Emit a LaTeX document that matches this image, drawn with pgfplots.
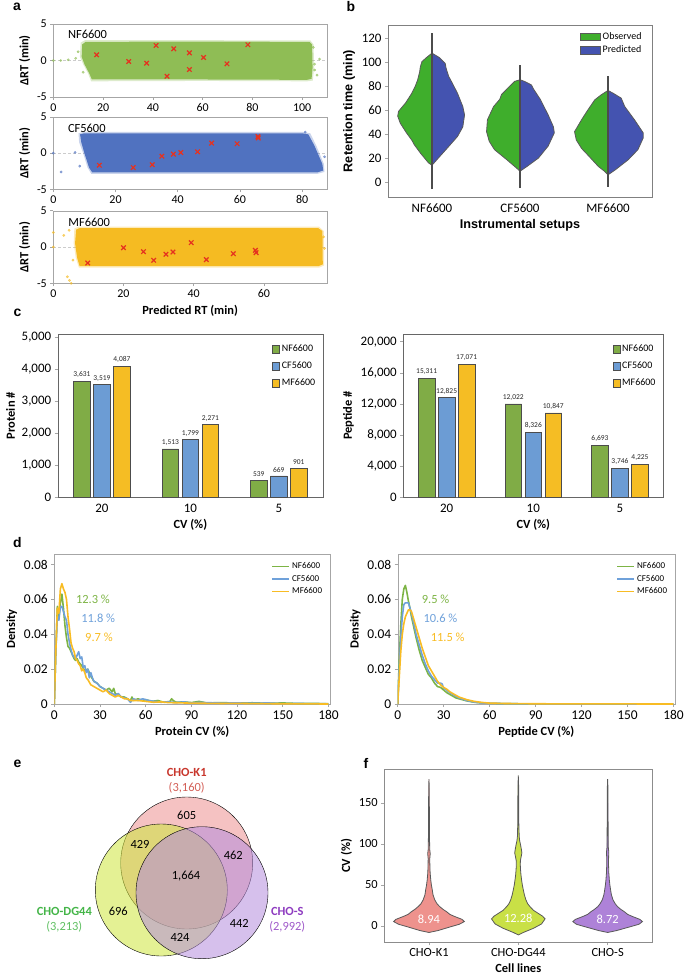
\documentclass[border=0pt]{standalone}
\usepackage{fontspec}
\setmainfont{Carlito}
\newfontfamily\arial{Liberation Sans}
\usepackage{pgfplots}
\pgfplotsset{compat=1.18}

\definecolor{aGreen}{HTML}{8FBD55}
\definecolor{aBlue}{HTML}{5072C0}
\definecolor{aOrange}{HTML}{F5BB22}
\definecolor{xRed}{HTML}{E5321F}
\definecolor{vGreen}{HTML}{3FAE2C}
\definecolor{vBlue}{HTML}{4453B0}
\definecolor{cGreen}{HTML}{80AC46}
\definecolor{cBlue}{HTML}{6C9CD4}
\definecolor{cOrange}{HTML}{F5BD24}
\definecolor{dGreen}{HTML}{7DB445}
\definecolor{dBlue}{HTML}{6FA1DA}
\definecolor{dOrange}{HTML}{F8BC24}
\definecolor{eRed}{HTML}{EC9090}
\definecolor{eGreen}{HTML}{CDE63C}
\definecolor{ePurple}{HTML}{B48CDC}
\definecolor{fRed}{HTML}{EE928D}
\definecolor{fGreen}{HTML}{C9E046}
\definecolor{fPurple}{HTML}{AE82D8}
\definecolor{frame}{HTML}{A6A6A6}
\definecolor{kRed}{HTML}{C8372D}
\definecolor{kGreen}{HTML}{44B548}
\definecolor{kPurple}{HTML}{8E3CC0}

\newcommand\fs[1]{\fontsize{#1}{#1}\selectfont}

\pgfplotsset{
  panel/.style={
    scale only axis, anchor=north west,
    axis line style={draw=frame}, tick style={draw=frame, line width=0.6bp},
    tick align=outside, major tick length=3bp, tick pos=left,
    ticklabel style={font=\fs{12}},
    /pgf/number format/assume math mode=true,
    /pgf/number format/1000 sep={,},
    scaled ticks=false,
    label style={font=\bfseries\fs{12.5}},
  },
  scat/.style={panel, width=273.7bp, xmin=0, ymin=-5, ymax=5, ytick={-5,0,5},
    ylabel={ΔRT (min)}},
  cloud/.style={draw=none, fill=#1},
  halo/.style={draw=none, fill=#1, fill opacity=0.3},
  sparse/.style={only marks, mark=*, mark size=1.2bp, color=#1, opacity=0.6},
  redx/.style={only marks, mark=x, mark size=3.2bp, color=xRed, line width=1.2bp},
  bars/.style={panel, width=#1, height=163.3bp, ybar=3.5bp, bar width=16.5bp,
    xmin=-0.5, xmax=2.5, ymin=0, xtick={0,1,2}, xticklabels={20,10,5},
    xtick style={draw=none}, axis line style={draw=black!60},
    ticklabel style={font=\fs{13}}, xlabel={CV (\%)},
    nodes near coords, nodes near coords style={font=\fs{7.5}, text=black!85},
    legend style={at={(0.99,0.96)}, anchor=north east, draw=none, fill=none,
      font=\fs{10}, row sep=5bp, cells={anchor=west}},
    legend image code/.code={\draw[##1, draw=black!70] (0bp,-4bp) rectangle (7bp,4bp);}},
  dens/.style={panel, width=#1, height=150bp, xmin=0, xmax=181, ymin=0, ymax=0.086,
    xtick={0,30,...,180}, ytick={0,0.02,0.04,0.06,0.08},
    yticklabel style={/pgf/number format/fixed, /pgf/number format/precision=2},
    ticklabel style={font=\fs{13.5}}, ylabel={Density},
    legend style={at={(0.99,0.97)}, anchor=north east, draw=none, fill=none,
      font=\fs{9}, row sep=1bp, cells={anchor=west}}},
  dline/.style={color=#1, line width=1.6bp, line join=round},
  vio/.style={fill=#1, draw=black!65, line width=0.8bp},
}

\begin{document}
\begin{tikzpicture}
\useasboundingbox (0,0) rectangle (685bp,-976bp);

% ---------- a ----------
\begin{axis}[scat, at={(53.3bp,-24bp)}, height=73bp, xmax=110, xtick={0,20,...,100}]
\addplot[densely dashed, black!20] coordinates {(0,0) (110,0)};
\addplot[halo=aGreen] coordinates {(10.7,0.5) (11,2.45) (12.7,2.78) (60,2.78) (103.3,2.75) (104.6,2.2) (104.8,-1) (104.3,-2.75) (102,-2.85) (60,-2.8) (15.2,-2.85) (14,-1.8) (12,-0.5)};
\addplot[cloud=aGreen] coordinates {(11.4,0.5) (11.6,2.2) (13,2.55) (60,2.6) (103,2.55) (104,2.2) (104.2,-1) (103.8,-2.5) (102,-2.65) (60,-2.6) (15.5,-2.6) (14.5,-1.8) (12.5,-0.5)};
\addplot[sparse=aGreen] coordinates {(0,0) (3,0) (6,0.1) (9,0.3) (12,-1.6) (104.5,1.8) (105,-1.3) (106,-2.0) (107,0.2) (105,-0.5) (10,1.2)};
\addplot[redx] coordinates {(17.4,0.78) (30.3,-0.14) (37.5,-0.37) (41.3,2.06) (48.4,1.6) (45.7,-2.16) (54.7,1.05) (54.7,-1.24) (60.4,0.41) (69.8,-0.46) (78.2,2.16)};
\node[anchor=west, font=\fs{12.5}] at (axis cs:4.5,3.6) {NF6600};
\end{axis}

\begin{axis}[scat, at={(53.3bp,-117bp)}, height=72.3bp, xmax=88, xtick={0,20,...,80}]
\addplot[densely dashed, black!20] coordinates {(0,0) (88,0)};
\addplot[halo=aBlue] coordinates {(8.3,1.5) (8.1,2.75) (10,2.95) (80,2.95) (82.6,2.75) (84.6,1) (87,-1.5) (87.2,-2.6) (85,-2.85) (12.2,-2.85) (11,-2) (9.6,0)};
\addplot[cloud=aBlue] coordinates {(9,1.5) (8.6,2.6) (10,2.75) (80,2.75) (82,2.6) (84,1) (86.5,-1.5) (86.8,-2.4) (85,-2.65) (12.5,-2.65) (11.5,-2) (10,0)};
\addplot[sparse=aBlue] coordinates {(0,0) (2.5,-2.6) (7,0.1) (8.5,-1.8) (87.2,-0.5) (81,2.9)};
\addplot[redx] coordinates {(14.8,-1.67) (25.7,-2.0) (31.8,-1.6) (34.9,-0.42) (38.6,-0.14) (41.0,0.09) (46.4,0.19) (50.9,1.39) (59.1,1.3) (65.8,2.3) (65.9,2.1)};
\node[anchor=west, font=\fs{12.5}] at (axis cs:3.6,3.5) {CF5600};
\end{axis}

\begin{axis}[scat, at={(53.3bp,-210.7bp)}, height=72.6bp, xmax=78, xtick={0,20,...,60},
  xlabel={Predicted RT (min)}]
\addplot[densely dashed, black!20] coordinates {(0,0) (78,0)};
\addplot[halo=aOrange] coordinates {(5.8,0.5) (6,2.55) (7.3,2.8) (75.7,2.8) (77.1,2.2) (77.2,-2.55) (75.7,-2.85) (7.3,-2.85) (6.4,-1.5)};
\addplot[cloud=aOrange] coordinates {(6.2,0.5) (6.5,2.4) (7.5,2.6) (75.5,2.6) (76.7,2.2) (76.8,-2.4) (75.5,-2.65) (7.5,-2.65) (6.8,-1.5)};
\addplot[sparse=aOrange] coordinates {(0,2) (0,0) (3,1.6) (4.5,2.3) (4,-4.1) (4.6,-4.6) (5.1,-5) (5.6,-1.8) (77.3,-0.2) (77,1.4)};
\addplot[redx] coordinates {(9.8,-2.2) (20.0,-0.1) (25.7,-0.64) (28.6,-1.83) (32.1,-1.0) (34.1,-0.69) (39.3,0.6) (43.6,-1.74) (51.3,-0.92) (57.6,-0.46) (57.8,-0.78)};
\node[anchor=west, font=\fs{12.5}] at (axis cs:3.3,3.4) {MF6600};
\end{axis}

% ---------- b ----------
\begin{axis}[panel, at={(388bp,-25bp)}, width=264bp, height=172bp,
  xmin=-0.5, xmax=2.5, ymin=-12.5, ymax=131,
  xtick={0,1,2}, xticklabels={NF6600,CF5600,MF6600}, xtick style={draw=none},
  ytick={0,20,...,120}, ticklabel style={font=\fs{13}},
  axis line style={draw=black!50},
  label style={font=\arial\bfseries\fs{12.7}},
  xlabel={Instrumental setups}, ylabel={Retention time (min)},
  legend style={at={(0.98,0.98)}, anchor=north east, draw=none, fill=none,
    font=\fs{10}, row sep=1bp, cells={anchor=west}},
  legend image code/.code={\fill[#1] (0bp,-3.8bp) rectangle (20bp,3.8bp);}]
\addplot[vio=vGreen] coordinates {(0,14) (-0.04,16) (-0.13,24) (-0.2,31) (-0.23,35) (-0.29,41) (-0.36,49) (-0.39,55) (-0.38,59) (-0.30,66) (-0.23,74) (-0.19,80) (-0.164,85) (-0.14,92) (-0.133,96) (-0.114,100.5) (-0.06,104) (0,107.5)};
\addlegendentry{Observed}
\addplot[vio=vBlue] coordinates {(0,14) (0.06,19) (0.17,28) (0.29,38) (0.35,46) (0.37,56) (0.35,63) (0.29,74) (0.22,84) (0.19,88) (0.16,95) (0.15,99) (0.08,104) (0,107.5)};
\addlegendentry{Predicted}
\addplot[vio=vGreen, forget plot] coordinates {(1,9) (0.96,11.7) (0.85,18.6) (0.71,27) (0.65,34) (0.62,42) (0.63,52) (0.70,63) (0.77,69) (0.79,73) (0.87,79) (0.94,84) (1,85.3)};
\addplot[vio=vBlue, forget plot] coordinates {(1,9) (1.08,13) (1.21,20) (1.32,30) (1.39,41) (1.38,46) (1.32,56) (1.23,69) (1.15,78) (1.13,81) (1.05,84) (1,85.3)};
\addplot[vio=vGreen, forget plot] coordinates {(2,6) (1.96,9) (1.89,13) (1.79,21) (1.70,28) (1.64,35) (1.62,42) (1.70,52) (1.77,60) (1.85,68.6) (1.924,72.8) (2,76.4)};
\addplot[vio=vBlue, forget plot] coordinates {(2,6) (2.08,10) (2.23,18.6) (2.34,27) (2.40,36.7) (2.40,41) (2.30,52) (2.19,63) (2.15,70) (2.06,74) (2,76.4)};
\addplot[black!70, line width=1.6bp, forget plot] coordinates {(0,-6) (0,124)};
\addplot[black!70, line width=1.6bp, forget plot] coordinates {(1,-5) (1,97.8)};
\addplot[black!70, line width=1.6bp, forget plot] coordinates {(2,-4) (2,88.6)};
\end{axis}

% ---------- c ----------
\begin{axis}[bars=265.3bp, at={(57.7bp,-334bp)}, ymax=5100, ytick={0,1000,...,5000},
  ylabel={Protein \#}]
\addplot[fill=cGreen, draw=black!70, line width=0.6bp] coordinates {(0,3631) (1,1513) (2,539)};
\addplot[fill=cBlue, draw=black!70, line width=0.6bp] coordinates {(0,3519) (1,1799) (2,669)};
\addplot[fill=cOrange, draw=black!70, line width=0.6bp] coordinates {(0,4087) (1,2271) (2,901)};
\legend{NF6600,CF5600,MF6600}
\end{axis}

\begin{axis}[bars=260bp, at={(403.3bp,-334bp)}, ymax=21000, ytick={0,4000,...,20000},
  ylabel={Peptide \#}]
\addplot[fill=cGreen, draw=black!70, line width=0.6bp] coordinates {(0,15311) (1,12022) (2,6693)};
\addplot[fill=cBlue, draw=black!70, line width=0.6bp] coordinates {(0,12825) (1,8326) (2,3746)};
\addplot[fill=cOrange, draw=black!70, line width=0.6bp] coordinates {(0,17071) (1,10847) (2,4225)};
\legend{NF6600,CF5600,MF6600}
\end{axis}

% ---------- d ----------
\begin{axis}[dens=275.7bp, at={(54.3bp,-554bp)}, xlabel={Protein CV (\%)}]
\addplot[dline=dGreen] coordinates {(0,0) (1,0.03) (2,0.056) (3,0.05) (4,0.058) (5,0.063) (6,0.055) (7,0.045) (8,0.038) (9,0.033) (10,0.032) (11,0.03) (12,0.028) (13,0.026) (14,0.025) (15,0.026) (16,0.024) (18,0.022) (20,0.019) (22,0.02) (24,0.016) (26,0.013) (28,0.012) (30,0.01) (32,0.009) (34,0.008) (36,0.009) (38,0.007) (39,0.009) (40,0.006) (42,0.005) (44,0.004) (46,0.004) (48,0.003) (50,0.002) (51,0.004) (52,0.002) (55,0.003) (58,0.002) (60,0.0025) (64,0.0015) (68,0.002) (72,0.001) (76,0.0015) (77,0.003) (78,0.002) (80,0.001) (85,0.0012) (90,0.0008) (95,0.0015) (100,0.0006) (110,0.0008) (120,0.0005) (130,0.0007) (140,0.0004) (150,0.0006) (160,0.0003) (170,0.0003) (180,0.0002)};
\addlegendentry{NF6600}
\addplot[dline=dBlue] coordinates {(0,0) (1,0.03) (2,0.05) (3,0.048) (4,0.056) (5,0.056) (6,0.053) (7,0.05) (8,0.048) (9,0.04) (10,0.035) (11,0.031) (12,0.028) (13,0.027) (14,0.026) (15,0.028) (16,0.03) (17,0.026) (18,0.027) (19,0.021) (20,0.022) (21,0.018) (22,0.02) (23,0.015) (24,0.018) (25,0.015) (26,0.013) (28,0.012) (30,0.01) (32,0.009) (34,0.008) (36,0.007) (38,0.006) (40,0.005) (42,0.006) (44,0.004) (46,0.0035) (48,0.003) (50,0.001) (52,0.003) (55,0.002) (58,0.003) (62,0.002) (66,0.0015) (70,0.001) (75,0.0012) (80,0.0008) (85,0.0012) (90,0.0006) (95,0.0009) (100,0.0008) (110,0.0005) (120,0.0006) (130,0.0004) (140,0.0006) (150,0.0002) (160,0.0003) (170,0.0002) (180,0.0001)};
\addlegendentry{CF5600}
\addplot[dline=dOrange] coordinates {(0,0) (1,0.03) (2,0.055) (3,0.052) (4,0.066) (5,0.069) (6,0.066) (7,0.064) (8,0.06) (9,0.05) (10,0.043) (11,0.035) (12,0.032) (13,0.03) (14,0.026) (15,0.025) (16,0.023) (17,0.022) (18,0.019) (19,0.02) (20,0.018) (21,0.015) (22,0.014) (24,0.011) (26,0.01) (28,0.009) (30,0.008) (32,0.007) (34,0.008) (36,0.006) (38,0.005) (40,0.004) (42,0.005) (44,0.004) (46,0.003) (48,0.003) (50,0.002) (55,0.002) (60,0.0015) (65,0.001) (70,0.0012) (75,0.0008) (80,0.0007) (90,0.0005) (100,0.0004) (110,0.0003) (120,0.0004) (130,0.0002) (140,0.0002) (150,0.0001) (160,0.0001) (180,0)};
\addlegendentry{MF6600}
\node[anchor=west, text=dGreen, font=\fs{12.5}] at (axis cs:12,0.060) {12.3 \%};
\node[anchor=west, text=dBlue, font=\fs{12.5}] at (axis cs:15.4,0.049) {11.8 \%};
\node[anchor=west, text=dOrange, font=\fs{12.5}] at (axis cs:18,0.0385) {9.7 \%};
\end{axis}

\begin{axis}[dens=277.3bp, at={(397.7bp,-554bp)}, xlabel={Peptide CV (\%)}]
\addplot[dline=dGreen] coordinates {(0,0) (1,0.025) (2,0.045) (3,0.06) (4,0.066) (5,0.068) (6,0.064) (7,0.059) (8,0.055) (9,0.05) (10,0.046) (12,0.038) (14,0.031) (16,0.025) (18,0.021) (20,0.017) (22,0.015) (24,0.012) (26,0.01) (28,0.0095) (30,0.008) (32,0.0065) (34,0.0055) (36,0.0045) (38,0.0035) (40,0.003) (45,0.0018) (50,0.001) (55,0.0006) (60,0.0004) (70,0.0002) (80,0.0001) (100,0.00005) (180,0)};
\addlegendentry{NF6600}
\addplot[dline=dBlue] coordinates {(0,0) (1,0.02) (2,0.038) (3,0.05) (4,0.057) (5,0.058) (6,0.058) (7,0.058) (8,0.055) (9,0.052) (10,0.048) (12,0.04) (14,0.034) (16,0.028) (18,0.023) (20,0.019) (22,0.016) (24,0.014) (26,0.012) (28,0.012) (29,0.0115) (30,0.009) (32,0.008) (34,0.0065) (36,0.0055) (38,0.0045) (40,0.0035) (45,0.002) (50,0.0011) (55,0.0006) (60,0.0004) (70,0.0002) (80,0.0001) (180,0)};
\addlegendentry{CF5600}
\addplot[dline=dOrange] coordinates {(0,0) (1,0.015) (2,0.03) (3,0.04) (4,0.046) (5,0.05) (6,0.052) (7,0.054) (8,0.054) (9,0.053) (10,0.05) (12,0.044) (14,0.038) (16,0.032) (18,0.027) (20,0.022) (22,0.019) (24,0.016) (26,0.013) (28,0.011) (30,0.0095) (32,0.0085) (34,0.007) (36,0.006) (38,0.005) (40,0.004) (45,0.0025) (50,0.0015) (55,0.0009) (60,0.0005) (70,0.0003) (80,0.0002) (100,0.0001) (180,0)};
\addlegendentry{MF6600}
\node[anchor=west, text=dGreen, font=\fs{12.5}] at (axis cs:13.5,0.060) {9.5 \%};
\node[anchor=west, text=dBlue, font=\fs{12.5}] at (axis cs:14.6,0.049) {10.6 \%};
\node[anchor=west, text=dOrange, font=\fs{12.5}] at (axis cs:19.3,0.0385) {11.5 \%};
\end{axis}

% ---------- e ----------
\begin{axis}[scale only axis, anchor=north west, at={(0bp,-740bp)}, width=340bp, height=236bp,
  xmin=0, xmax=340, ymin=-976, ymax=-740, hide axis, clip=false]
\addplot[only marks, mark=*, mark size=66bp, mark options={draw=none, fill=eRed, fill opacity=0.55}] coordinates {(186.7,-863)};
\addplot[only marks, mark=*, mark size=66bp, mark options={draw=none, fill=eGreen, fill opacity=0.55}] coordinates {(161.3,-890)};
\addplot[only marks, mark=*, mark size=66bp, mark options={draw=none, fill=ePurple, fill opacity=0.55}] coordinates {(202,-892.7)};
\end{axis}
% Venn labels, over the circles
\begin{scope}[every node/.style={font=\fs{12.5}}]
\node[font=\bfseries\fs{12.5}, text=kRed] at (186.7bp,-772.5bp) {CHO-K1};
\node[text=kRed!80] at (186.7bp,-788bp) {(3,160)};
\node[font=\bfseries\fs{12.5}, text=kGreen] at (64.3bp,-911bp) {CHO-DG44};
\node[text=kGreen!85] at (64.3bp,-926.7bp) {(3,213)};
\node[font=\bfseries\fs{12.5}, text=kPurple] at (287.3bp,-911bp) {CHO-S};
\node[text=kPurple!85] at (287.3bp,-926.7bp) {(2,992)};
\node at (186.7bp,-815bp) {605};
\node at (140bp,-844.3bp) {429};
\node at (233.3bp,-855bp) {462};
\node at (186bp,-876bp) {1,664};
\node at (118.3bp,-911bp) {696};
\node at (239.3bp,-923.3bp) {442};
\node at (180bp,-937.7bp) {424};
\end{scope}

% ---------- f ----------
\begin{axis}[panel, at={(384.3bp,-769.3bp)}, width=268bp, height=173bp,
  xmin=-0.5, xmax=2.5, ymin=-20, ymax=191,
  xtick={0,1,2}, xticklabels={CHO-K1,CHO-DG44,CHO-S},
  ytick={0,50,100,150}, ticklabel style={font=\fs{12.5}},
  axis line style={draw=black!45},
  xlabel={Cell lines}, ylabel={CV (\%)}]
\addplot[vio=fRed] coordinates {(0,-8) (0.10,-5.7) (0.25,-0.8) (0.34,2) (0.396,5.3) (0.37,8) (0.29,11.4) (0.235,14) (0.195,17.5) (0.16,20) (0.12,23.6) (0.09,27) (0.065,31.8) (0.045,38) (0.037,44) (0.027,50) (0.02,56) (0.013,65) (0.01,75) (0.009,82) (0.014,88) (0.008,94) (0.006,110) (0.005,130) (0.004,150) (0.003,170) (0,179) (-0.003,170) (-0.004,150) (-0.005,130) (-0.006,110) (-0.008,94) (-0.014,88) (-0.009,82) (-0.01,75) (-0.013,65) (-0.02,56) (-0.027,50) (-0.037,44) (-0.045,38) (-0.065,31.8) (-0.09,27) (-0.12,23.6) (-0.16,20) (-0.195,17.5) (-0.235,14) (-0.29,11.4) (-0.37,8) (-0.396,5.3) (-0.34,2) (-0.25,-0.8) (-0.10,-5.7) (0,-8)};
\addplot[vio=fGreen] coordinates {(1,-11) (1.056,-8) (1.17,-2.9) (1.26,2.4) (1.30,8.6) (1.27,12) (1.22,15.5) (1.17,19) (1.13,23.6) (1.105,27) (1.085,31.8) (1.068,38) (1.056,44) (1.045,50) (1.037,56) (1.03,62) (1.025,68.5) (1.022,75) (1.024,80) (1.033,85) (1.04,89) (1.035,93) (1.025,99) (1.015,104) (1.01,109) (1.006,125) (1.005,150) (1.004,170) (1,183.5) (0.996,170) (0.995,150) (0.994,125) (0.99,109) (0.985,104) (0.975,99) (0.965,93) (0.96,89) (0.967,85) (0.976,80) (0.978,75) (0.975,68.5) (0.97,62) (0.963,56) (0.955,50) (0.944,44) (0.932,38) (0.915,31.8) (0.895,27) (0.87,23.6) (0.83,19) (0.78,15.5) (0.73,12) (0.70,8.6) (0.74,2.4) (0.83,-2.9) (0.944,-8) (1,-11)};
\addplot[vio=fPurple] coordinates {(2,-8) (2.10,-5.7) (2.26,-0.8) (2.35,2) (2.39,5.3) (2.36,8) (2.28,11.4) (2.225,14) (2.185,17.5) (2.15,20) (2.11,23.6) (2.085,27) (2.06,31.8) (2.042,38) (2.033,44) (2.025,50) (2.019,56) (2.013,65) (2.01,75) (2.011,85) (2.013,90) (2.008,95) (2.006,110) (2.005,130) (2.004,150) (2.003,170) (2,179) (1.997,170) (1.996,150) (1.995,130) (1.994,110) (1.992,95) (1.987,90) (1.989,85) (1.99,75) (1.987,65) (1.981,56) (1.975,50) (1.967,44) (1.958,38) (1.94,31.8) (1.915,27) (1.89,23.6) (1.85,20) (1.815,17.5) (1.775,14) (1.72,11.4) (1.64,8) (1.61,5.3) (1.65,2) (1.74,-0.8) (1.90,-5.7) (2,-8)};
\node[text=white, font=\fs{12.5}] at (axis cs:0,8.3) {8.94};
\node[text=white, font=\fs{12.5}] at (axis cs:1,9) {12.28};
\node[text=white, font=\fs{12.5}] at (axis cs:2,8.3) {8.72};
\end{axis}

% ---------- panel letters ----------
\begin{scope}[every node/.style={font=\arial\bfseries\fs{14}}]
\node at (17bp,-7bp) {a};
\node at (351bp,-7bp) {b};
\node at (17.5bp,-313bp) {c};
\node at (17.5bp,-543bp) {d};
\node at (17.5bp,-764bp) {e};
\node at (366bp,-763bp) {f};
\end{scope}
\end{tikzpicture}
\end{document}
